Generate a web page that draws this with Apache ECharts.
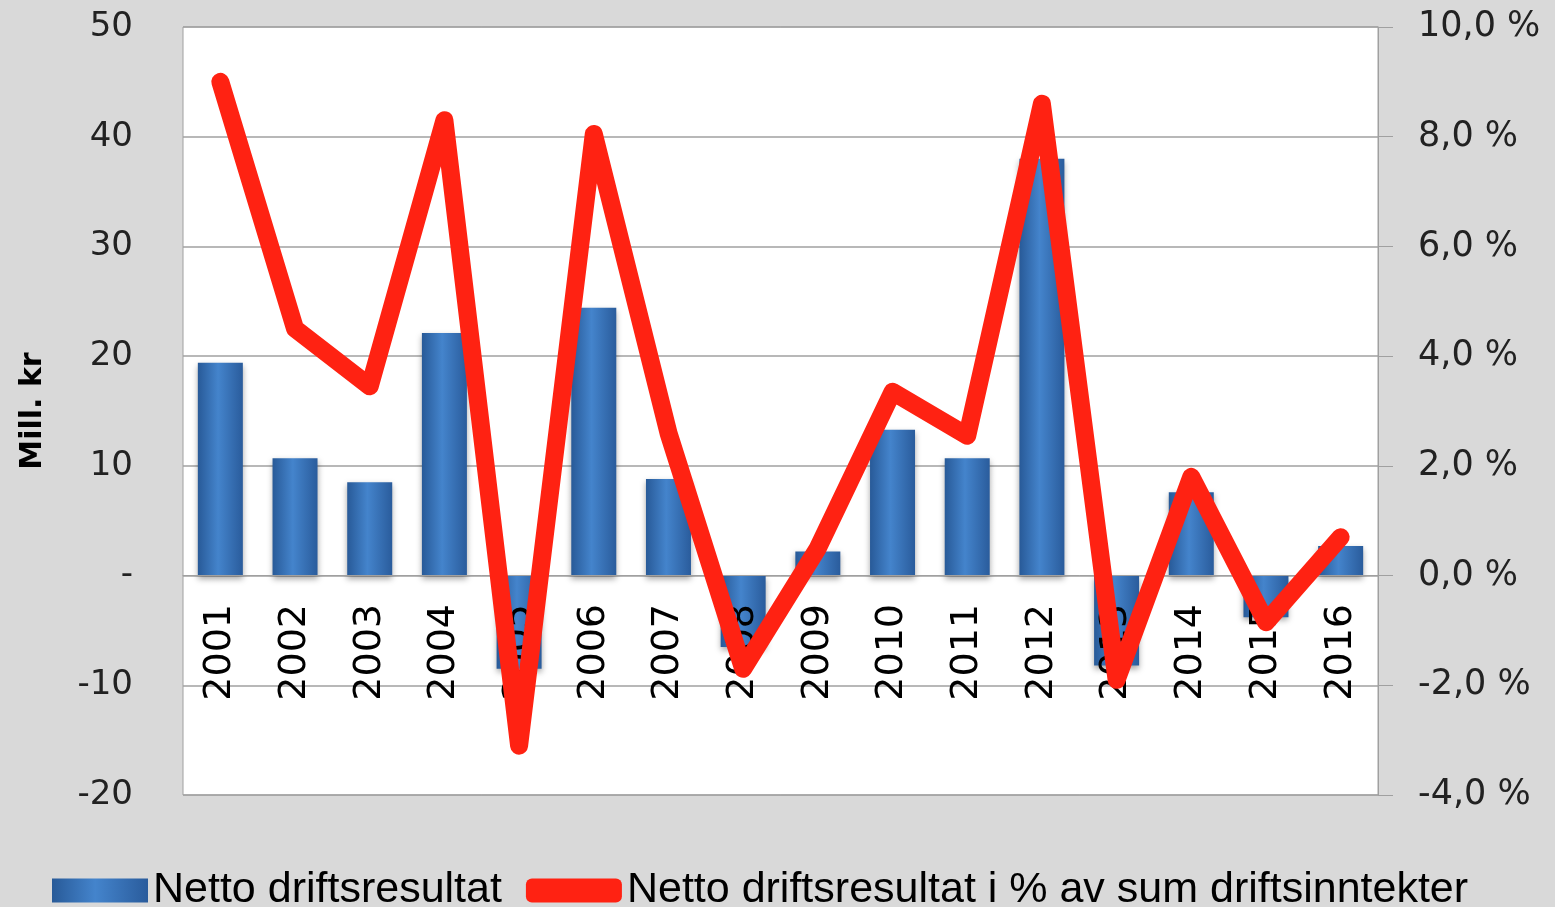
<!DOCTYPE html>
<html>
<head>
<meta charset="utf-8">
<script src="https://cdn.jsdelivr.net/npm/echarts@6/dist/echarts.min.js"></script>
<style>
  html, body { margin: 0; padding: 0; background: #d9d9d9; }
  #chart { width: 1555px; height: 907px; }
</style>
</head>
<body>
<div id="chart"></div>
<script>
var years = ['2001', '2002', '2003', '2004', '2005', '2006', '2007', '2008',
    '2009', '2010', '2011', '2012', '2013', '2014', '2015', '2016'];
// Mill. kr
var nettoDrift = [19.4, 10.7, 8.5, 22.1, -8.5, 24.4, 8.8, -6.5,
    2.2, 13.3, 10.7, 38.0, -8.2, 7.6, -3.8, 2.7];
// % av sum driftsinntekter
var nettoProsent = [9.0, 4.5, 3.45, 8.3, -3.1, 8.05, 2.6, -1.7,
    0.5, 3.35, 2.55, 8.6, -1.9, 1.8, -0.85, 0.7];

var myChart = echarts.init(document.getElementById('chart'));

var barColor = new echarts.graphic.LinearGradient(0, 0, 1, 0, [
    { offset: 0, color: '#285a98' },
    { offset: 0.45, color: '#4484cc' },
    { offset: 1, color: '#2a5c9c' }
]);

// grid is 768px tall for -20..50, so zero sits 220px above the bottom edge
var option = {
    backgroundColor: '#d9d9d9',
    animation: false,
    grid: {
        left: 183, right: 177, top: 27, bottom: 112,
        outerBoundsMode: 'none', containLabel: false,
        show: true, backgroundColor: '#ffffff', borderColor: '#a0a0a0', borderWidth: 1
    },
    legend: {
        top: 864, left: 47,
        itemWidth: 96, itemHeight: 24, itemGap: 24,
        textStyle: { fontFamily: 'Liberation Sans', fontSize: 43, color: '#000' },
        data: [
            { name: 'Netto driftsresultat', icon: 'rect' },
            { name: 'Netto driftsresultat i % av sum driftsinntekter', icon: 'roundRect' }
        ]
    },
    xAxis: {
        type: 'category',
        data: years,
        position: 'bottom',
        offset: -220,
        z: 3,
        axisLine: { onZero: false, lineStyle: { color: '#a0a0a0' } },
        axisTick: { show: false },
        axisLabel: {
            rotate: 90, margin: 29, color: '#000',
            fontFamily: 'DejaVu Sans', fontSize: 38
        }
    },
    yAxis: [
        {
            type: 'value', min: -20, max: 50, interval: 10,
            name: 'Mill. kr', nameLocation: 'middle', nameGap: 135, nameRotate: 90,
            nameTextStyle: { fontFamily: 'DejaVu Sans', fontWeight: 'bold', fontSize: 30, color: '#000' },
            axisLine: { show: false },
            axisTick: { show: false },
            splitLine: { lineStyle: { color: '#a0a0a0', width: 1.5 } },
            axisLabel: {
                margin: 50, color: '#222', fontFamily: 'DejaVu Sans', fontSize: 34,
                formatter: function (v) { return v === 0 ? '-' : String(v); }
            }
        },
        {
            type: 'value', min: -4, max: 10, interval: 2,
            axisLine: { show: true, lineStyle: { color: '#a0a0a0' } },
            axisTick: { show: true, length: 15, lineStyle: { color: '#a0a0a0' } },
            splitLine: { show: false },
            axisLabel: {
                margin: 40, color: '#222', fontFamily: 'DejaVu Sans', fontSize: 35,
                formatter: function (v) { return v.toFixed(1).replace('.', ',') + ' %'; }
            }
        }
    ],
    series: [
        {
            name: 'Netto driftsresultat',
            type: 'bar',
            data: nettoDrift,
            barWidth: 45,
            z: 2,
            itemStyle: {
                color: barColor,
                shadowColor: 'rgba(0,0,0,0.35)', shadowBlur: 6, shadowOffsetY: 3
            }
        },
        {
            name: 'Netto driftsresultat i % av sum driftsinntekter',
            type: 'line',
            yAxisIndex: 1,
            data: nettoProsent,
            z: 5,
            symbol: 'none',
            lineStyle: { color: '#ff2212', width: 18, join: 'round', cap: 'round' },
            itemStyle: { color: '#ff2212' }
        }
    ]
};

myChart.setOption(option);
</script>
</body>
</html>
